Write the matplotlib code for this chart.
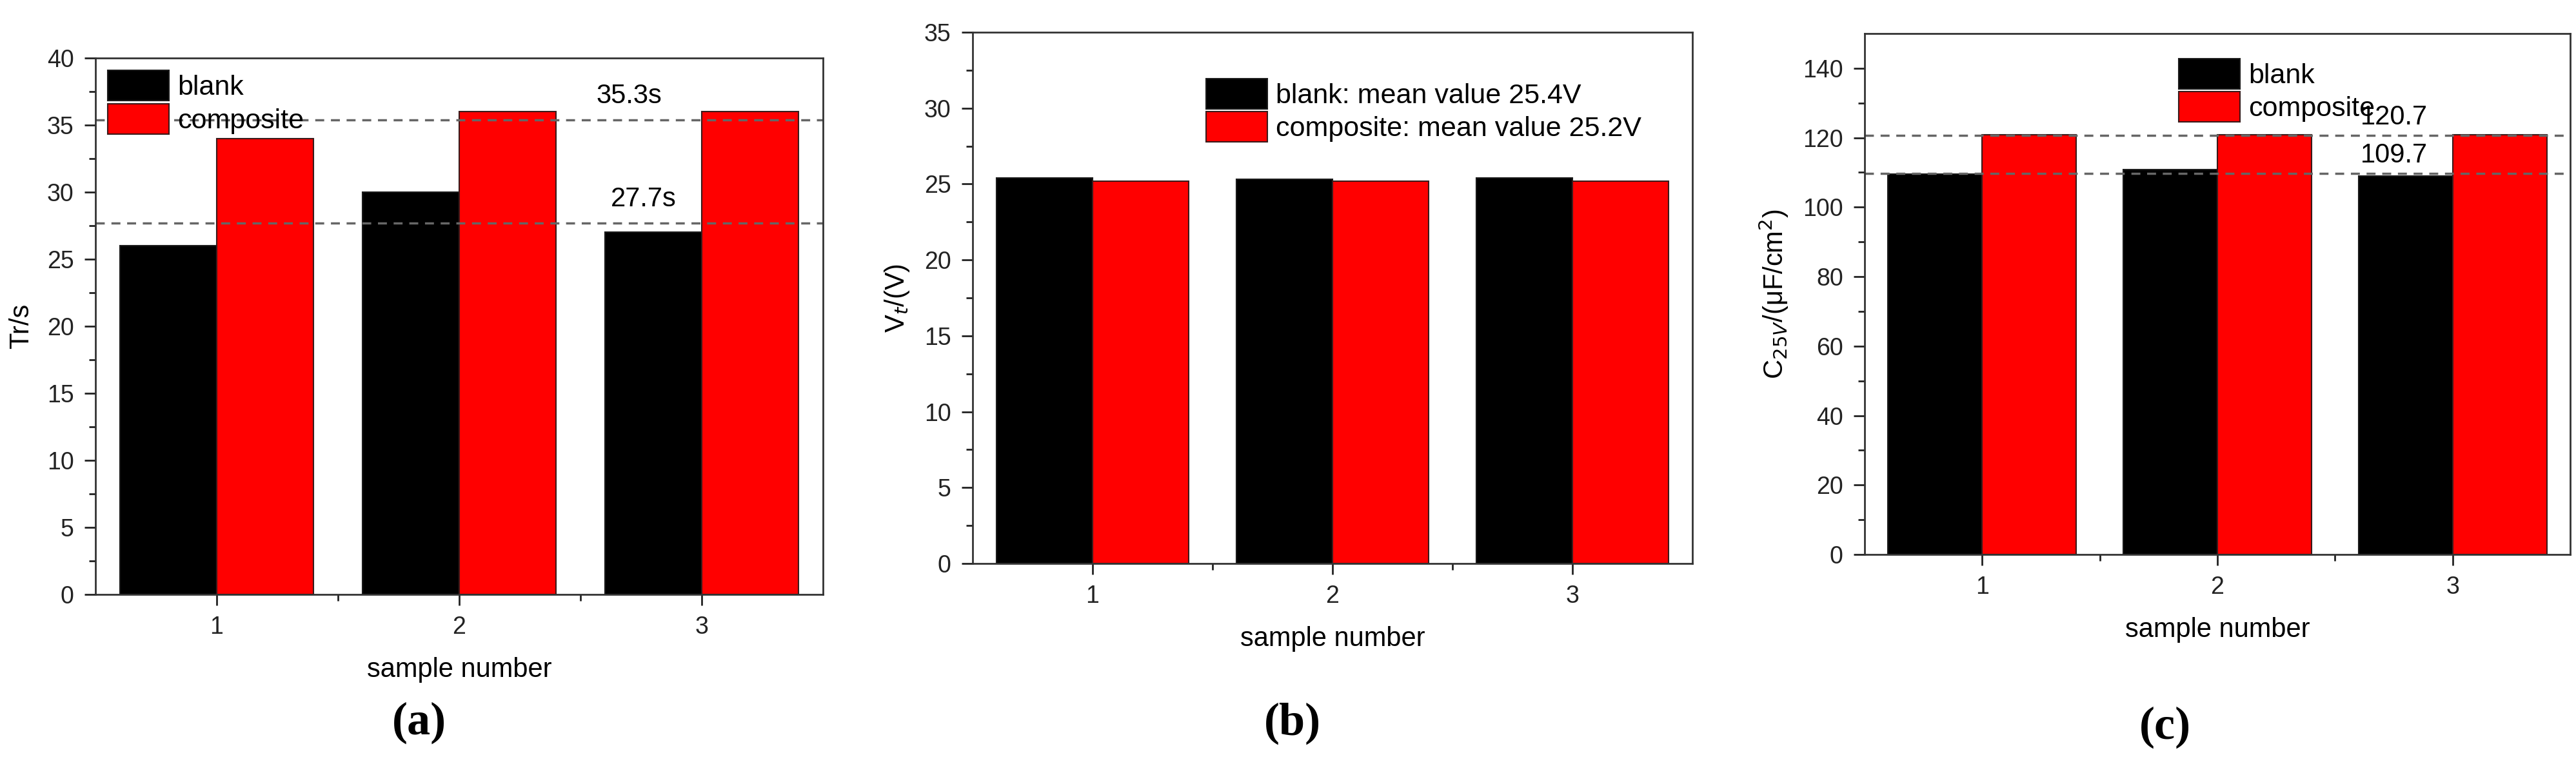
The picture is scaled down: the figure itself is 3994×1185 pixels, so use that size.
import matplotlib
matplotlib.use("Agg")
import matplotlib.pyplot as plt
import numpy as np

samples = [1, 2, 3]
a_blank = [26, 30, 27]
a_comp = [34, 36, 36]
a_lines = [35.4, 27.7]
a_texts = ["35.3s", "27.7s"]
b_blank = [25.4, 25.3, 25.4]
b_comp = [25.2, 25.2, 25.2]
c_blank = [109.5, 110.9, 108.9]
c_comp = [120.8, 120.8, 120.8]
c_lines = [120.7, 109.7]
c_texts = ["120.7", "109.7"]

W, H = 3994, 1185
fig = plt.figure(figsize=(W/100, H/100), dpi=100)
plt.rcParams['font.family'] = ['Liberation Sans', 'DejaVu Sans']

def mk(l, r, t, b):
    return fig.add_axes([l/W, 1-b/H, (r-l)/W, (b-t)/H])

def bars(ax, blank, comp, lab_b, lab_c):
    x = np.array(samples)
    ax.bar(x-0.2, blank, 0.4, color='black', edgecolor='#1a1a1a', linewidth=1.5, label=lab_b)
    ax.bar(x+0.2, comp, 0.4, color='#ff0000', edgecolor='#3a1a1a', linewidth=1.5, label=lab_c)
    ax.set_xlim(0.5, 3.5)
    ax.set_xticks(samples)
    ax.set_xticks([1.5, 2.5], minor=True)
    ax.tick_params(axis='both', which='major', labelsize=27, length=12, width=2, direction='out', colors='#222222', pad=12)
    ax.tick_params(axis='both', which='minor', length=7, width=2, direction='out', colors='#222222')
    for s in ax.spines.values():
        s.set_linewidth(2); s.set_color('#333333')
    ax.set_xlabel('sample number', fontsize=30, labelpad=20)

LBL = dict(fontsize=52, fontweight='bold', family='Liberation Serif', ha='center', va='center')

# (a)
ax = mk(148, 1276, 90, 922)
bars(ax, a_blank, a_comp, 'blank', 'composite')
ax.set_ylim(0, 40)
ax.set_yticks(np.arange(0, 41, 5))
ax.set_yticks(np.arange(2.5, 40, 5), minor=True)
ax.set_ylabel('Tr/s', fontsize=30, labelpad=14)
for v, t, xx in zip(a_lines, a_texts, [2.70, 2.76]):
    ax.axhline(v, color='#666666', ls=(0, (4, 3)), lw=2.5)
    ax.text(xx, v+0.8, t, fontsize=30, ha='center', va='bottom')
ax.legend(loc='upper left', fontsize=31, frameon=False, borderaxespad=0.05, handlelength=2.2, handleheight=1.3, handletextpad=0.3, labelspacing=0.1)
fig.text(650/W, 1-1121/H, '(a)', **LBL)

# (b)
ax = mk(1508, 2624, 50, 874)
bars(ax, b_blank, b_comp, 'blank: mean value 25.4V', 'composite: mean value 25.2V')
ax.set_ylim(0, 35)
ax.set_yticks(np.arange(0, 36, 5))
ax.set_yticks(np.arange(2.5, 35, 5), minor=True)
ax.set_ylabel(r'V$_t$/(V)', fontsize=30, labelpad=14)
ax.legend(loc='upper left', bbox_to_anchor=(0.29, 0.96), fontsize=31, frameon=False, handlelength=2.2, handleheight=1.3, handletextpad=0.3, labelspacing=0.1)
fig.text(2004/W, 1-1122/H, '(b)', **LBL)

# (c)
ax = mk(2891, 3985, 52, 860)
bars(ax, c_blank, c_comp, 'blank', 'composite')
ax.set_ylim(0, 150)
ax.set_yticks(np.arange(0, 141, 20))
ax.set_yticks(np.arange(10, 150, 20), minor=True)
ax.set_ylabel(r'C$_{25V}$/(μF/cm$^2$)', fontsize=30, labelpad=14)
for v, t in zip(c_lines, c_texts):
    ax.axhline(v, color='#666666', ls=(0, (4, 3)), lw=2.5)
    ax.text(2.75, v+1.5, t, fontsize=30, ha='center', va='bottom')
ax.legend(loc='upper left', bbox_to_anchor=(0.41, 1.0), fontsize=31, frameon=False, handlelength=2.2, handleheight=1.3, handletextpad=0.3, labelspacing=0.1)
fig.text(3357/W, 1-1128/H, '(c)', **LBL)

fig.savefig('out.png', dpi=100, facecolor='white')
